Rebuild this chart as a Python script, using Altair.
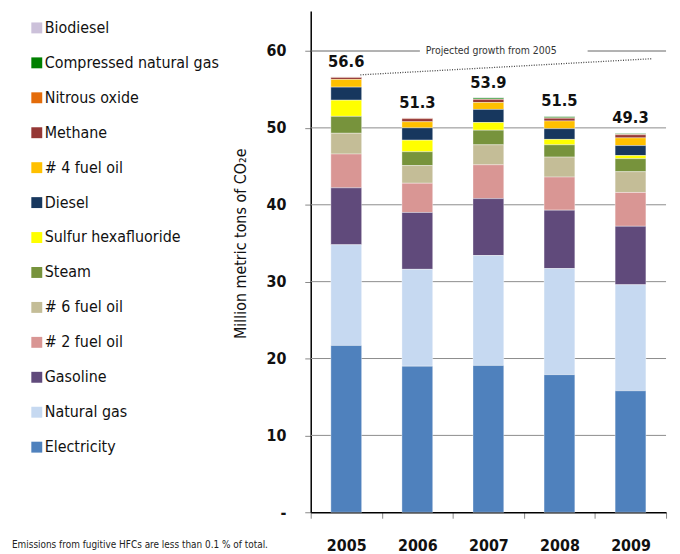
import altair as alt
import pandas as pd

years = ["2005", "2006", "2007", "2008", "2009"]
categories = ["Biodiesel", "Compressed natural gas", "Nitrous oxide", "Methane", "# 4 fuel oil",
              "Diesel", "Sulfur hexafluoride", "Steam", "# 6 fuel oil", "# 2 fuel oil",
              "Gasoline", "Natural gas", "Electricity"]
colors = ["#ccc1da", "#008000", "#e46c0a", "#953735", "#ffc000",
          "#17375e", "#ffff00", "#77933c", "#c4bd97", "#d99694",
          "#604a7b", "#c6d9f1", "#4f81bd"]

electricity = [21.7, 19.0, 19.1, 17.9, 15.8]
natural_gas = [13.1, 12.6, 14.3, 13.8, 13.8]
gasoline = [7.4, 7.4, 7.4, 7.6, 7.6]
fuel_oil_2 = [4.4, 3.8, 4.4, 4.3, 4.4]
fuel_oil_6 = [2.7, 2.3, 2.6, 2.6, 2.7]
steam = [2.2, 1.8, 1.9, 1.6, 1.7]
sulfur_hexafluoride = [2.1, 1.5, 1.0, 0.7, 0.4]
diesel = [1.7, 1.6, 1.7, 1.4, 1.3]
fuel_oil_4 = [1.0, 0.8, 0.9, 1.0, 1.0]
methane = [0.25, 0.4, 0.4, 0.35, 0.4]
nitrous_oxide = [0.05, 0.05, 0.05, 0.05, 0.05]
compressed_natural_gas = [0.0, 0.0, 0.15, 0.15, 0.1]
biodiesel = [0.05, 0.05, 0.05, 0.05, 0.05]

totals = [56.6, 51.3, 53.9, 51.5, 49.3]
grid_values = [10, 20, 30, 40, 50]
top_line = [60]
projection_start = [56.9]
projection_end = [59.0]

series = {
    "Biodiesel": biodiesel,
    "Compressed natural gas": compressed_natural_gas,
    "Nitrous oxide": nitrous_oxide,
    "Methane": methane,
    "# 4 fuel oil": fuel_oil_4,
    "Diesel": diesel,
    "Sulfur hexafluoride": sulfur_hexafluoride,
    "Steam": steam,
    "# 6 fuel oil": fuel_oil_6,
    "# 2 fuel oil": fuel_oil_2,
    "Gasoline": gasoline,
    "Natural gas": natural_gas,
    "Electricity": electricity,
}

rows = []
for cat in categories:
    for y, v in zip(years, series[cat]):
        rows.append({"year": y, "category": cat, "value": v,
                     "order": len(categories) - categories.index(cat)})
df = pd.DataFrame(rows)
tot_df = pd.DataFrame({"year": years, "total": totals})

FONT = "'DejaVu Sans Condensed', 'Liberation Sans Narrow', 'Roboto Condensed', Roboto, sans-serif"
W, H = 358, 505
ymax = 65.2

yscale = alt.Scale(domain=[0, ymax], nice=False, zero=True)
xscale = alt.Scale(domain=years, paddingInner=0, paddingOuter=0)

yaxis = alt.Axis(values=[0, 10, 20, 30, 40, 50, 60],
                 labelExpr="datum.value == 0 ? '-' : datum.label",
                 labelFont=FONT, labelFontSize=16, labelFontWeight="bold",
                 labelColor="#111", labelPadding=19, tickSize=6, tickColor="#888",
                 domainColor="#000", domainWidth=1.5, grid=False,
                 titleFont=FONT, titleFontSize=16, titleFontWeight="normal",
                 titleColor="#111", titleX=-71, titleY=234, titleAngle=-90,
                 titleAlign="center", titleBaseline="middle")
YTITLE = "Million metric tons of CO₂e"

grid = alt.Chart(pd.DataFrame({"v": grid_values})).mark_rule(
    color="#8c8c8c", strokeWidth=1
).encode(y=alt.Y("v:Q", scale=yscale, axis=yaxis, title=YTITLE))

bars = alt.Chart(df).mark_bar(
    width=alt.RelativeBandSize(0.433), stroke="white", strokeWidth=0.6, strokeOpacity=0.6
).encode(
    x=alt.X("year:N", scale=xscale, title=None,
            axis=alt.Axis(labelAngle=0, labelFont=FONT, labelFontSize=16, labelFontWeight="bold",
                          labelColor="#111", labelPadding=20, tickBand="extent", tickSize=6,
                          tickColor="#888", domainColor="#000", domainWidth=1.5, grid=False)),
    y=alt.Y("value:Q", stack="zero", scale=yscale, axis=yaxis, title=YTITLE),
    color=alt.Color("category:N", scale=alt.Scale(domain=categories, range=colors),
                    legend=alt.Legend(orient="none", legendX=-284, legendY=9, title=None,
                                      symbolType="square", symbolSize=121, symbolStrokeWidth=0,
                                      labelFont=FONT, labelFontSize=16, labelColor="#111",
                                      rowPadding=19.2, labelOffset=0, padding=0, labelLimit=300)),
    order=alt.Order("order:Q", sort="ascending"),
)

labels = alt.Chart(tot_df).mark_text(
    font=FONT, fontSize=16.5, fontWeight="bold", color="#111", baseline="bottom", dy=-7
).encode(
    x=alt.X("year:N", scale=xscale),
    y=alt.Y("total:Q", scale=yscale),
    text=alt.Text("total:Q", format=".1f"),
)

line_df = pd.DataFrame({"v": top_line})
seg1 = alt.Chart(line_df).mark_rule(color="#666", strokeWidth=1).encode(
    y=alt.Y("v:Q", scale=yscale), x=alt.value(0), x2=alt.value(110))
seg2 = alt.Chart(line_df).mark_rule(color="#666", strokeWidth=1).encode(
    y=alt.Y("v:Q", scale=yscale), x=alt.value(279), x2=alt.value(W))
proj_text = alt.Chart(line_df).mark_text(
    font=FONT, fontSize=10.5, color="#333", align="left", baseline="middle"
).encode(y=alt.Y("v:Q", scale=yscale), x=alt.value(116), text=alt.value("Projected growth from 2005"))

proj_df = pd.DataFrame({"a": projection_start, "b": projection_end})
proj = alt.Chart(proj_df).mark_rule(color="#444", strokeWidth=1.3, strokeDash=[1, 1.5]).encode(
    y=alt.Y("a:Q", scale=yscale), y2="b:Q", x=alt.value(50), x2=alt.value(344))

foot = alt.Chart(pd.DataFrame({"t": ["Emissions from fugitive HFCs are less than 0.1 % of total."]})).mark_text(
    font=FONT, fontSize=10, color="#222", align="left", baseline="middle"
).encode(x=alt.value(-301), y=alt.value(538), text="t:N")

chart = alt.layer(grid, bars, labels, seg1, seg2, proj_text, proj, foot).properties(
    width=W, height=H, padding={"left": 4, "top": 1, "right": 5, "bottom": 0}
).configure_view(stroke=None)

chart.save("out.html", embed_options={"renderer": "svg", "actions": False})
